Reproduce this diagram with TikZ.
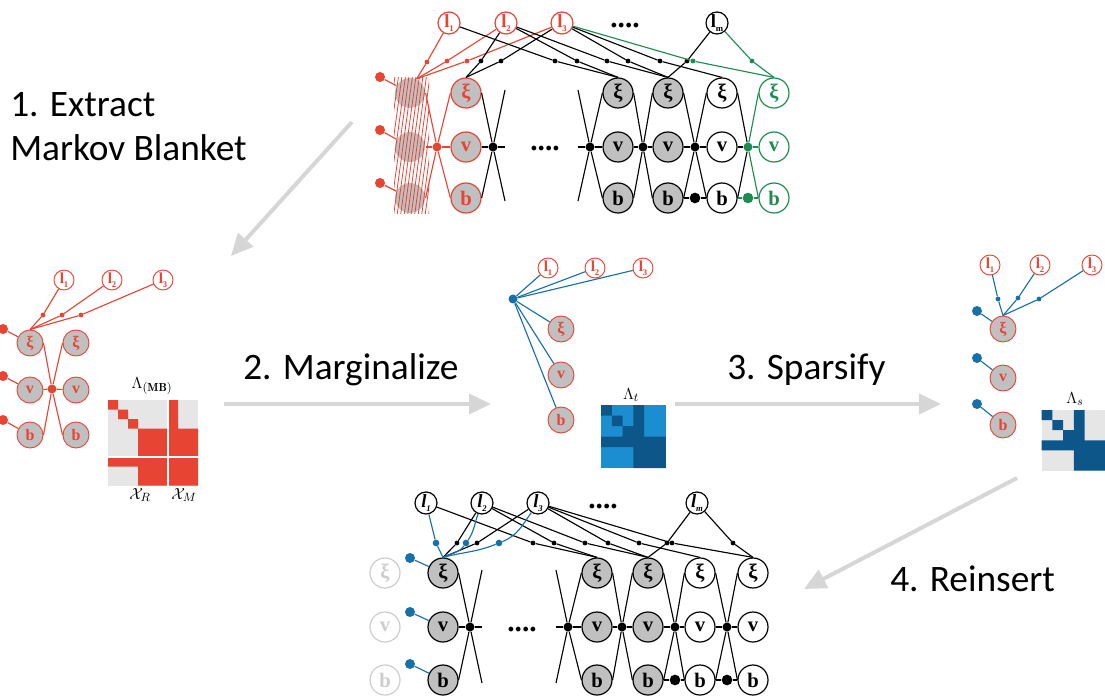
\documentclass[tikz,border=0pt]{standalone}
\usepackage{fontspec}
\usetikzlibrary{arrows.meta}
\newfontfamily\stepfont{Carlito}
\newfontfamily\varfont{Liberation Serif}
\definecolor{mbred}{RGB}{232,68,52}
\definecolor{mbgreen}{RGB}{30,140,82}
\definecolor{mbblue}{RGB}{22,112,170}
\definecolor{nodegray}{RGB}{192,192,192}
\definecolor{fadegray}{RGB}{205,205,205}
\definecolor{arrowgray}{RGB}{214,214,214}
\definecolor{cellgray}{RGB}{230,230,230}
\definecolor{lightblue}{RGB}{26,142,208}
\definecolor{darkblue}{RGB}{12,86,138}
% landmark label: a bold l with a small lowered index
\newcommand\lsub[1]{l\kern-0.2pt\raisebox{-0.55ex}{\fontsize{6.5}{6.5}\selectfont #1}}
\begin{document}
\begin{tikzpicture}[x=0.75pt,y=-0.75pt,
  var/.style={circle,draw,line width=0.9pt,minimum size=22.5pt,inner sep=0pt,
    font=\fontsize{15.5}{15.5}\selectfont\varfont\bfseries},
  svar/.style={var,minimum size=19.5pt,line width=0.7pt,font=\fontsize{12}{12}\selectfont\varfont\bfseries},
  lmk/.style={circle,draw,fill=white,line width=0.9pt,minimum size=16.5pt,inner sep=0pt,
    font=\fontsize{14}{14}\selectfont\varfont\bfseries},
  slmk/.style={lmk,minimum size=15pt,line width=0.7pt,draw=mbred,text=mbred,
    font=\fontsize{11.5}{11.5}\selectfont\varfont\bfseries},
  shaded/.style={fill=nodegray},
  redvar/.style={fill=nodegray,draw=mbred,text=mbred},
  fac/.style={circle,fill,inner sep=0pt,minimum size=6.75pt},
  ldot/.style={circle,fill,inner sep=0pt,minimum size=3.6pt},
  pdot/.style={circle,fill,inner sep=0pt,minimum size=7.5pt},
  edge/.style={line width=0.85pt},
  flow/.style={draw=arrowgray,line width=3pt,-{Triangle[length=16.5pt,width=15pt]}},
  steplabel/.style={font=\fontsize{28}{33.5}\selectfont\stepfont,align=left,inner sep=0pt},
  ellip/.style={font=\fontsize{22}{22}\selectfont\varfont\bfseries,inner sep=0pt,anchor=base},
  mlabel/.style={font=\fontsize{12.5}{12.5}\selectfont,inner sep=0pt},
]
\useasboundingbox (0,0) rectangle (1105,698);

% ================= step labels and process arrows =================
\node[steplabel,anchor=north west] (s1) at (10,92) {1. Extract\\Markov Blanket};
\node[steplabel,anchor=base west] (s2) at (243,379) {2. Marginalize};
\node[steplabel,anchor=base west] (s3) at (727,379) {3. Sparsify};
\node[steplabel,anchor=base west] (s4) at (890,591) {4. Reinsert};

\coordinate (a1s) at (352,122); \coordinate (a1e) at (231,256);
\coordinate (a2s) at (224,404); \coordinate (a2e) at (491,404);
\coordinate (a3s) at (675,404); \coordinate (a3e) at (941,404);
\coordinate (a4s) at (1017,478); \coordinate (a4e) at (804,589);
\draw[flow] (a1s) -- (a1e);
\draw[flow] (a2s) -- (a2e);
\draw[flow] (a3s) -- (a3e);
\draw[flow] (a4s) -- (a4e);

% ================= full factor graph (top) =================
\node[lmk,draw=mbred,text=mbred] (tl1) at (449,23) {\lsub{1}};
\node[lmk,draw=mbred,text=mbred] (tl2) at (506,23) {\lsub{2}};
\node[lmk,draw=mbred,text=mbred] (tl3) at (562,23) {\lsub{3}};
\node[lmk] (tlm) at (717,23) {\lsub{m}};
\node[ellip] (tdots) at (625,28) {....};

% pose column that is taken out: shaded circles under red hatching
\node[var,draw=none,fill=nodegray] (txi0) at (410,93) {};
\node[var,draw=none,fill=nodegray] (tv0) at (410,147) {};
\node[var,draw=none,fill=nodegray] (tb0) at (410,198) {};
\begin{scope}
  \clip (394,78) rectangle (429,214);
  \foreach \k in {362,365.5,...,434} \draw[mbred,line width=0.6pt] (\k,216) -- (\k+19,76);
\end{scope}

\node[var,redvar] (txi1) at (466,93) {ξ};
\node[var,redvar] (tv1) at (466,147) {v};
\node[var,redvar] (tb1) at (466,198) {b};
\foreach \n/\x in {2/618,3/668} {
  \node[var,shaded] (txi\n) at (\x,93) {ξ};
  \node[var,shaded] (tv\n) at (\x,147) {v};
  \node[var,shaded] (tb\n) at (\x,198) {b};
}
\node[var,fill=white] (txi4) at (722,93) {ξ};
\node[var,fill=white] (tv4) at (722,147) {v};
\node[var,fill=white] (tb4) at (722,198) {b};
\node[var,fill=white,draw=mbgreen,text=mbgreen] (txi5) at (774,93) {ξ};
\node[var,fill=white,draw=mbgreen,text=mbgreen] (tv5) at (774,147) {v};
\node[var,fill=white,draw=mbgreen,text=mbgreen] (tb5) at (774,198) {b};

% priors on the removed pose
\node[pdot,mbred] (tp1) at (380,77) {};
\node[pdot,mbred] (tp2) at (380,130) {};
\node[pdot,mbred] (tp3) at (380,183) {};
\draw[edge,mbred] (tp1) -- (txi0);
\draw[edge,mbred] (tp2) -- (tv0);
\draw[edge,mbred] (tp3) -- (tb0);

% motion factors
\node[fac,mbred] (tf0) at (437,147) {};
\node[fac] (tf1) at (493,147) {};
\node[fac] (tf2) at (590,147) {};
\node[fac] (tf3) at (643,147) {};
\node[fac] (tf4) at (695,147) {};
\node[fac,mbgreen] (tf5) at (748,147) {};
\node[fac,minimum size=8pt] (tg4) at (695,198) {};
\node[fac,mbgreen,minimum size=8pt] (tg5) at (748,198) {};
\node[ellip] (tmid) at (545,151) {....};
\coordinate (to1a) at (505,201); \coordinate (to1b) at (505,90); \coordinate (to1c) at (505,147);
\coordinate (to2a) at (578,90); \coordinate (to2b) at (578,201); \coordinate (to2c) at (578,147);

\draw[edge,mbred] (txi0.east) -- (tf0) -- (tb1.west);
\draw[edge,mbred] (tb0.east) -- (tf0) -- (txi1.west);
\draw[edge,mbred] (tv0) -- (tf0) -- (tv1);
\draw[edge] (txi1.east) -- (tf1) -- (to1a);
\draw[edge] (tb1.east) -- (tf1) -- (to1b);
\draw[edge] (tv1) -- (tf1) -- (to1c);
\draw[edge] (to2a) -- (tf2) -- (tb2.west);
\draw[edge] (to2b) -- (tf2) -- (txi2.west);
\draw[edge] (to2c) -- (tf2) -- (tv2);
\draw[edge] (txi2.east) -- (tf3) -- (tb3.west);
\draw[edge] (tb2.east) -- (tf3) -- (txi3.west);
\draw[edge] (tv2) -- (tf3) -- (tv3);
\draw[edge] (txi3.east) -- (tf4) -- (tb4.west);
\draw[edge] (tb3.east) -- (tf4) -- (txi4.west);
\draw[edge] (tv3) -- (tf4) -- (tv4);
\draw[edge] (tb3) -- (tg4) -- (tb4);
\draw[edge] (txi4.east) -- (tf5);
\draw[edge] (tb4.east) -- (tf5);
\draw[edge] (tv4) -- (tf5);
\draw[edge,mbgreen] (tf5) -- (tb5.west);
\draw[edge,mbgreen] (tf5) -- (txi5.west);
\draw[edge,mbgreen] (tf5) -- (tv5);
\draw[edge,mbgreen] (tb4) -- (tg5) -- (tb5);

% landmark observations
\node[ldot,mbred] (ta1) at (427,62) {};
\node[ldot,mbred] (ta2) at (447,61) {};
\node[ldot,mbred] (ta3) at (467,61) {};
\draw[edge,mbred] (tl1) -- (ta1) -- (txi0.65);
\draw[edge,mbred] (tl2) -- (ta2) -- (txi0.65);
\draw[edge,mbred] (tl3) -- (ta3) -- (txi0.65);
\foreach \nm/\x/\a/\b in {tk1/481/tl2/txi1, tk2/501/tl3/txi1, tk3/555/tl1/txi2,
    tk4/577/tl2/txi2, tk5/607/tl2/txi3, tk6/628/tl3/txi3, tk7/660/tl3/txi4, tk8/687/tlm/txi3} {
  \node[ldot] (\nm) at (\x,61) {};
  \draw[edge] (\a) -- (\nm) -- (\b.north);
}
\node[ldot,mbgreen] (tk9) at (693,61) {};
\node[ldot,mbgreen] (tk10) at (752,61) {};
\draw[edge,mbgreen] (tl3) -- (tk9) -- (txi5.north);
\draw[edge,mbgreen] (tlm) -- (tk10) -- (txi5.north);

% ================= Markov blanket (left) =================
\node[slmk] (ll1) at (64,280) {\lsub{1}};
\node[slmk] (ll2) at (112,280) {\lsub{2}};
\node[slmk] (ll3) at (163,280) {\lsub{3}};
\node[svar,redvar] (lxa) at (30,343) {ξ};
\node[svar,redvar] (lva) at (30,390) {v};
\node[svar,redvar] (lba) at (30,435) {b};
\node[svar,redvar] (lxb) at (76,343) {ξ};
\node[svar,redvar] (lvb) at (76,390) {v};
\node[svar,redvar] (lbb) at (76,435) {b};
\node[pdot,mbred] (lp1) at (3,329) {};
\node[pdot,mbred] (lp2) at (3,376) {};
\node[pdot,mbred] (lp3) at (3,420) {};
\node[fac,mbred] (lf) at (52,389) {};
\node[ldot,mbred] (ld1) at (43,315) {};
\node[ldot,mbred] (ld2) at (62,315) {};
\node[ldot,mbred] (ld3) at (81,315) {};
\draw[edge,mbred] (ll1) -- (ld1) -- (lxa.north);
\draw[edge,mbred] (ll2) -- (ld2) -- (lxa.north);
\draw[edge,mbred] (ll3) -- (ld3) -- (lxa.north);
\draw[edge,mbred] (lxa.east) -- (lf) -- (lbb.west);
\draw[edge,mbred] (lba.east) -- (lf) -- (lxb.west);
\draw[edge,mbred] (lva) -- (lf) -- (lvb);
\draw[edge,mbred] (lp1) -- (lxa);
\draw[edge,mbred] (lp2) -- (lva);
\draw[edge,mbred] (lp3) -- (lba);

% information matrix of the blanket
\fill[cellgray] (108,400) rectangle (198,485.5);
\fill[mbred] (108,400) rectangle (118,409.5) (118,409.5) rectangle (128,419)
  (128,419) rectangle (138,428.5) (138,428.5) rectangle (168,457)
  (168,400) rectangle (178,457) (178,428.5) rectangle (198,457)
  (108,457) rectangle (168,466.5) (138,466.5) rectangle (168,485.5)
  (168,457) rectangle (198,485.5);
\draw[white,line width=1.5pt] (168,400) -- (168,485.5) (108,457) -- (198,457);
\node[mlabel] (mbl) at (152,386) {$\Lambda_{(\mathbf{MB})}$};
\node[mlabel] (xr) at (140,495) {$\mathcal{X}_R$};
\node[mlabel] (xm) at (184,495) {$\mathcal{X}_M$};

% ================= marginalized (middle) =================
\node[slmk] (ml1) at (548,268) {\lsub{1}};
\node[slmk] (ml2) at (595,268) {\lsub{2}};
\node[slmk] (ml3) at (643,268) {\lsub{3}};
\node[svar,redvar] (mxi) at (561,329) {ξ};
\node[svar,redvar] (mv) at (561,375) {v};
\node[svar,redvar] (mb) at (561,420) {b};
\node[fac,mbblue] (mhub) at (513,299) {};
\foreach \t in {ml1,ml2,ml3,mxi,mv,mb} \draw[edge,mbblue] (mhub) -- (\t);

\fill[lightblue] (601,405) rectangle (665.8,468);
\fill[darkblue] (601,405) rectangle (611.8,415.5) (611.8,415.5) rectangle (622.6,426)
  (622.6,426) rectangle (633.4,436.5) (633.4,405) rectangle (644.2,468)
  (601,436.5) rectangle (665.8,447) (633.4,436.5) rectangle (665.8,468);
\node[mlabel] (ltl) at (631,395) {$\Lambda_t$};

% ================= sparsified (right) =================
\node[slmk] (rl1) at (990,265) {\lsub{1}};
\node[slmk] (rl2) at (1040,265) {\lsub{2}};
\node[slmk] (rl3) at (1092,265) {\lsub{3}};
\node[svar,redvar] (rxi) at (1003,329) {ξ};
\node[svar,redvar] (rv) at (1003,378) {v};
\node[svar,redvar] (rb) at (1003,425) {b};
\node[pdot,mbblue] (rp1) at (977,311) {};
\node[pdot,mbblue] (rp2) at (977,358) {};
\node[pdot,mbblue] (rp3) at (977,404) {};
\node[ldot,mbblue] (rd1) at (998,299) {};
\node[ldot,mbblue] (rd2) at (1018,298) {};
\node[ldot,mbblue] (rd3) at (1039,299) {};
\draw[edge,mbblue] (rl1) -- (rd1) -- (rxi.north);
\draw[edge,mbblue] (rl2) -- (rd2) -- (rxi.north);
\draw[edge,mbblue] (rl3) -- (rd3) -- (rxi.north);
\draw[edge,mbblue] (rp1) -- (rxi);
\draw[edge,mbblue] (rp2) -- (rv);
\draw[edge,mbblue] (rp3) -- (rb);

\fill[cellgray] (1041.5,410) rectangle (1106.3,470.6);
\fill[darkblue] (1041.5,410) rectangle (1052.3,420.1) (1052.3,420.1) rectangle (1063.1,430.2)
  (1063.1,430.2) rectangle (1073.9,440.3) (1073.9,410) rectangle (1084.7,470.6)
  (1041.5,440.3) rectangle (1106.3,450.4) (1073.9,440.3) rectangle (1106.3,470.6);
\node[mlabel] (lsl) at (1075,399) {$\Lambda_s$};

% ================= graph after reinsertion (bottom) =================
\node[lmk] (bl1) at (426,503) {\itshape\lsub{1}};
\node[lmk] (bl2) at (482,503) {\itshape\lsub{2}};
\node[lmk] (bl3) at (538,503) {\itshape\lsub{3}};
\node[lmk] (blm) at (697,503) {\itshape\lsub{m}};
\node[ellip] (bdots) at (603,508) {....};

\node[var,fill=white,draw=fadegray,text=fadegray] (bxi0) at (385,573) {ξ};
\node[var,fill=white,draw=fadegray,text=fadegray] (bv0) at (385,627) {v};
\node[var,fill=white,draw=fadegray,text=fadegray] (bb0) at (385,680) {b};
\foreach \n/\x in {1/443,2/597,3/648} {
  \node[var,shaded] (bxi\n) at (\x,573) {ξ};
  \node[var,shaded] (bv\n) at (\x,627) {v};
  \node[var,shaded] (bb\n) at (\x,680) {b};
}
\foreach \n/\x in {4/700,5/753} {
  \node[var,fill=white] (bxi\n) at (\x,573) {ξ};
  \node[var,fill=white] (bv\n) at (\x,627) {v};
  \node[var,fill=white] (bb\n) at (\x,680) {b};
}

\node[fac] (bf1) at (470,627) {};
\node[fac] (bf2) at (568,627) {};
\node[fac] (bf3) at (622,627) {};
\node[fac] (bf4) at (675,627) {};
\node[fac] (bf5) at (727,627) {};
\node[fac,minimum size=8pt] (bg4) at (675,680) {};
\node[fac,minimum size=8pt] (bg5) at (727,680) {};
\node[ellip] (bmid) at (522,631) {....};
\coordinate (bo1a) at (482,683); \coordinate (bo1b) at (482,570); \coordinate (bo1c) at (482,627);
\coordinate (bo2a) at (556,570); \coordinate (bo2b) at (556,683); \coordinate (bo2c) at (556,627);

\draw[edge] (bxi1.east) -- (bf1) -- (bo1a);
\draw[edge] (bb1.east) -- (bf1) -- (bo1b);
\draw[edge] (bv1) -- (bf1) -- (bo1c);
\draw[edge] (bo2a) -- (bf2) -- (bb2.west);
\draw[edge] (bo2b) -- (bf2) -- (bxi2.west);
\draw[edge] (bo2c) -- (bf2) -- (bv2);
\draw[edge] (bxi2.east) -- (bf3) -- (bb3.west);
\draw[edge] (bb2.east) -- (bf3) -- (bxi3.west);
\draw[edge] (bv2) -- (bf3) -- (bv3);
\draw[edge] (bxi3.east) -- (bf4) -- (bb4.west);
\draw[edge] (bb3.east) -- (bf4) -- (bxi4.west);
\draw[edge] (bv3) -- (bf4) -- (bv4);
\draw[edge] (bxi4.east) -- (bf5) -- (bb5.west);
\draw[edge] (bb4.east) -- (bf5) -- (bxi5.west);
\draw[edge] (bv4) -- (bf5) -- (bv5);
\draw[edge] (bb3) -- (bg4) -- (bb4);
\draw[edge] (bb4) -- (bg5) -- (bb5);

\foreach \nm/\x/\a/\b in {bk1/457/bl2/bxi1, bk2/477/bl3/bxi1, bk3/533/bl1/bxi2,
    bk4/554/bl2/bxi2, bk5/585/bl2/bxi3, bk6/608/bl3/bxi3, bk7/639/bl3/bxi4,
    bk8/667/blm/bxi3, bk9/672/bl3/bxi5, bk10/733/blm/bxi5} {
  \node[ldot] (\nm) at (\x,543) {};
  \draw[edge] (\a) -- (\nm) -- (\b.north);
}

% reinserted sparsified factors
\node[pdot,mbblue] (bp1) at (410,558) {};
\node[pdot,mbblue] (bp2) at (410,612) {};
\node[pdot,mbblue] (bp3) at (410,664) {};
\draw[edge,mbblue] (bp1) -- (bxi1);
\draw[edge,mbblue] (bp2) -- (bv1);
\draw[edge,mbblue] (bp3) -- (bb1);
\node[ldot,mbblue,minimum size=5pt] (bq1) at (436,543) {};
\node[ldot,mbblue,minimum size=5pt] (bq2) at (466,543) {};
\node[ldot,mbblue,minimum size=5pt] (bq3) at (499,543) {};
\draw[edge,mbblue] (bl1) -- (bq1) -- (bxi1.north);
\draw[edge,mbblue] (bl2) to[out=-110,in=55] (bq2) to[out=-125,in=30] (bxi1.north);
\draw[edge,mbblue] (bl3) to[out=-125,in=22] (bq3) to[out=-158,in=15] (bxi1.north);
\end{tikzpicture}
\end{document}
